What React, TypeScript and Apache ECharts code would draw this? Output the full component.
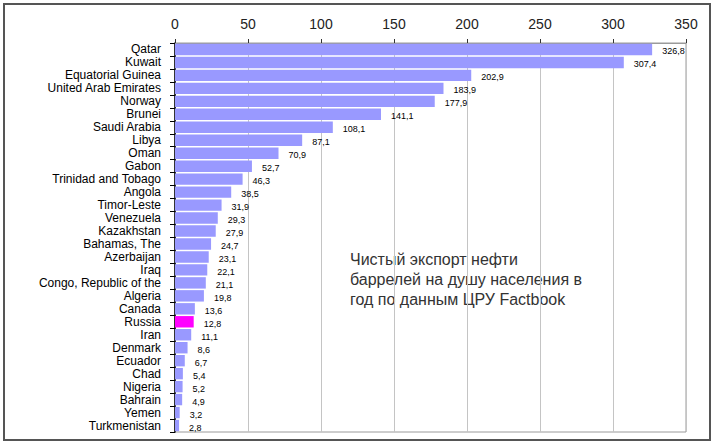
import React, { useEffect, useRef } from "react";
import * as echarts from "echarts";

const countries = [
  "Qatar", "Kuwait", "Equatorial Guinea", "United Arab Emirates", "Norway", "Brunei",
  "Saudi Arabia", "Libya", "Oman", "Gabon", "Trinidad and Tobago", "Angola",
  "Timor-Leste", "Venezuela", "Kazakhstan", "Bahamas, The", "Azerbaijan", "Iraq",
  "Congo, Republic of the", "Algeria", "Canada", "Russia", "Iran", "Denmark",
  "Ecuador", "Chad", "Nigeria", "Bahrain", "Yemen", "Turkmenistan",
];
const values = [
  326.8, 307.4, 202.9, 183.9, 177.9, 141.1,
  108.1, 87.1, 70.9, 52.7, 46.3, 38.5,
  31.9, 29.3, 27.9, 24.7, 23.1, 22.1,
  21.1, 19.8, 13.6, 12.8, 11.1, 8.6,
  6.7, 5.4, 5.2, 4.9, 3.2, 2.8,
];
const highlighted = ["Russia"];
const xTicks = [0, 50, 100, 150, 200, 250, 300, 350];
const noteLines = [
  "Чистый экспорт нефти",
  "баррелей на душу населения в",
  "год по данным ЦРУ Factbook",
];

export default function App() {
  const ref = useRef<HTMLDivElement>(null);
  useEffect(() => {
    document.body.style.margin = "0";
    const chart = echarts.init(ref.current!, null, { renderer: "svg" });
    const font = "'Liberation Sans', Arial, sans-serif";
    chart.setOption({
      animation: false,
      backgroundColor: "#ffffff",
      grid: { left: 175, right: 29, top: 43, bottom: 13, show: true, borderColor: "#9a9a9a", borderWidth: 1 },
      xAxis: {
        type: "value",
        position: "top",
        min: xTicks[0],
        max: xTicks[xTicks.length - 1],
        interval: 50,
        axisLine: { show: true, lineStyle: { color: "#9a9a9a" } },
        axisTick: { show: true, length: 4, lineStyle: { color: "#333" } },
        axisLabel: { color: "#222", fontSize: 14, fontFamily: font, margin: 12 },
        splitLine: { show: true, lineStyle: { color: "#c4c4c4" } },
      },
      yAxis: {
        type: "category",
        inverse: true,
        data: countries,
        axisLine: { show: true, lineStyle: { color: "#000", width: 1.5 } },
        axisTick: { show: true, length: 5, interval: 0, lineStyle: { color: "#000" } },
        axisLabel: { color: "#000", fontSize: 12, fontFamily: font, margin: 14, interval: 0, lineHeight: 12 },
      },
      graphic: [
        {
          type: "rect",
          shape: { x: 4, y: 4, width: 706, height: 436 },
          style: { fill: "none", stroke: "#555", lineWidth: 2 },
          silent: true,
        },
        {
          type: "text",
          x: 350,
          y: 249,
          style: {
            text: noteLines.join("\n"),
            fill: "#333",
            font: `16px ${font}`,
            lineHeight: 20,
          },
        },
      ],
      series: [
        {
          type: "bar",
          barCategoryGap: "12%",
          data: values.map((v, i) => ({
            value: v,
            itemStyle: { color: highlighted.includes(countries[i]) ? "#ff00ff" : "#9999ff" },
          })),
          label: {
            show: true,
            position: "right",
            distance: 10,
            offset: [0, 2],
            color: "#000",
            fontSize: 9,
            fontFamily: font,
            formatter: (p: any) => p.value.toFixed(1).replace(".", ","),
          },
        },
      ],
    });
    return () => chart.dispose();
  }, []);
  return <div ref={ref} style={{ width: 715, height: 445 }} />;
}
